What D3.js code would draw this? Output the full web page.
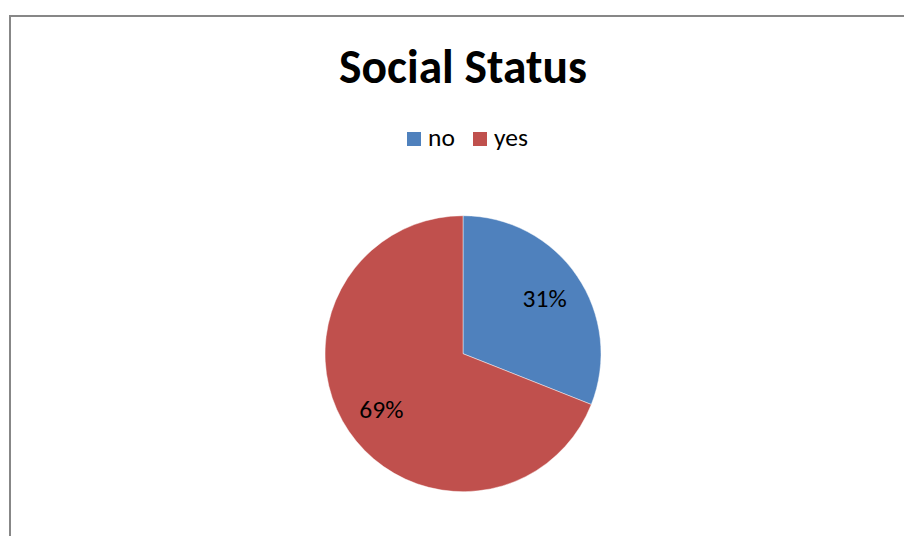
<!DOCTYPE html>
<html>
<head>
<meta charset="utf-8">
<script src="https://cdn.jsdelivr.net/npm/d3@7"></script>
<style>
  html, body { margin: 0; padding: 0; background: #fff; }
  svg { display: block; }
  text { font-family: Carlito, Calibri, Lato, "Open Sans", sans-serif; }
</style>
</head>
<body>
<svg id="chart" width="904" height="536"></svg>
<script>
// Chart data
const title = "Social Status";
const categories = ["no", "yes"];
const values = [31, 69];
const colors = ["#4F81BD", "#C0504D"];

const width = 904, height = 536;
const svg = d3.select("#chart");

// Chart area frame
svg.append("rect")
  .attr("x", 10).attr("y", 16)
  .attr("width", width + 10).attr("height", height + 10)
  .attr("fill", "#fff")
  .attr("stroke", "#878787")
  .attr("stroke-width", 2);

// Title
svg.append("text")
  .attr("x", 463).attr("y", 83)
  .attr("text-anchor", "middle")
  .attr("font-size", 47.5)
  .attr("font-weight", "bold")
  .attr("fill", "#000")
  .text(title);

// Legend
const legendItems = [
  { sx: 407, tx: 428 },
  { sx: 473, tx: 494 }
];
const legend = svg.append("g");
categories.forEach((c, i) => {
  legend.append("rect")
    .attr("x", legendItems[i].sx).attr("y", 132)
    .attr("width", 14).attr("height", 14)
    .attr("fill", colors[i]);
  legend.append("text")
    .attr("x", legendItems[i].tx).attr("y", 146)
    .attr("font-size", 25.5)
    .attr("fill", "#000")
    .text(c);
});

// Pie
const cx = 463, cy = 353.7, r = 138;
const color = d3.scaleOrdinal().domain(categories).range(colors);
const pie = d3.pie().sort(null).value(d => d.value);
const arcs = pie(categories.map((c, i) => ({ name: c, value: values[i] })));
const arc = d3.arc().innerRadius(0).outerRadius(r);
const labelArc = d3.arc().innerRadius(r * 0.715).outerRadius(r * 0.715);
const total = d3.sum(values);

const g = svg.append("g").attr("transform", `translate(${cx},${cy})`);
g.selectAll("path.slice")
  .data(arcs)
  .join("path")
  .attr("class", "slice")
  .attr("d", arc)
  .attr("fill", d => color(d.data.name))
  .attr("stroke", "#ffffff")
  .attr("stroke-opacity", 0.6)
  .attr("stroke-width", 0.75);

g.selectAll("text.label")
  .data(arcs)
  .join("text")
  .attr("class", "label")
  .attr("transform", d => `translate(${labelArc.centroid(d)})`)
  .attr("text-anchor", "middle")
  .attr("dy", "0.35em")
  .attr("font-size", 25.5)
  .attr("fill", "#000")
  .text(d => Math.round(d.data.value / total * 100) + "%");
</script>
</body>
</html>
